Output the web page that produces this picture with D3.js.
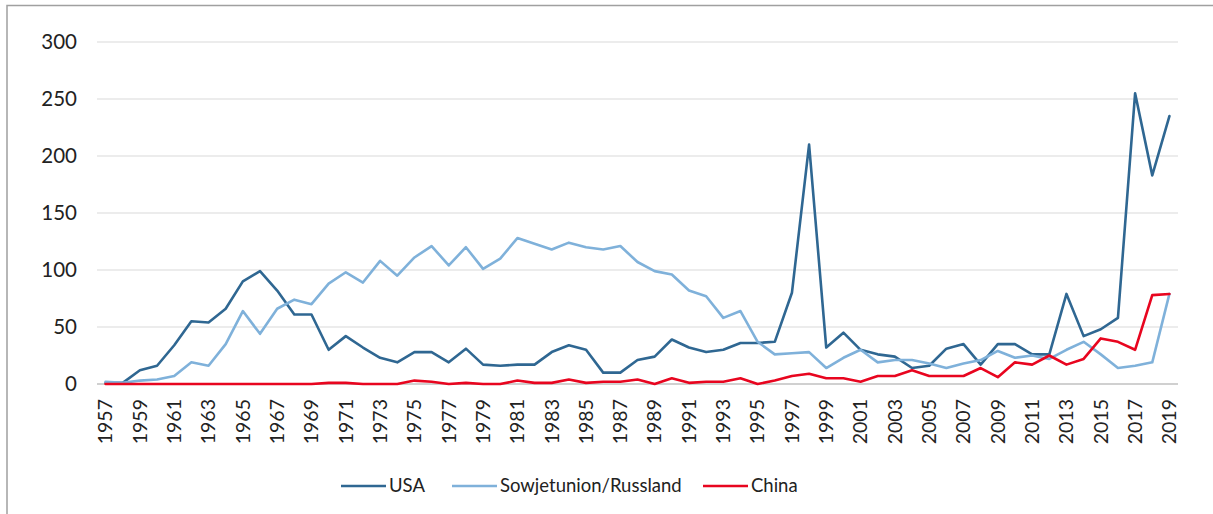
<!DOCTYPE html>
<html>
<head>
<meta charset="utf-8">
<script src="https://cdn.jsdelivr.net/npm/d3@7/dist/d3.min.js"></script>
<style>
  html, body { margin: 0; padding: 0; background: #fff; }
  svg { display: block; font-family: Lato, "Open Sans", sans-serif; }
</style>
</head>
<body>
<svg id="chart" width="1213" height="514"></svg>
<script>
const years = d3.range(1957, 2020);
const usa = [1,1,12,16,34,55,54,66,90,99,82,61,61,30,42,32,23,19,28,28,19,31,17,16,17,17,28,34,30,10,10,21,24,39,32,28,30,36,36,37,80,210,32,45,30,26,24,14,16,31,35,17,35,35,26,26,79,42,48,58,255,183,235];
const sowjet = [2,1,3,4,7,19,16,35,64,44,66,74,70,88,98,89,108,95,111,121,104,120,101,110,128,123,118,124,120,118,121,107,99,96,82,77,58,64,37,26,27,28,14,23,30,19,21,21,18,14,18,21,29,23,25,22,30,37,26,14,16,19,79];
const china = [0,0,0,0,0,0,0,0,0,0,0,0,0,1,1,0,0,0,3,2,0,1,0,0,3,1,1,4,1,2,2,4,0,5,1,2,2,5,0,3,7,9,5,5,2,7,7,12,7,7,7,14,6,19,17,25,17,22,40,37,30,78,79];
const yTicks = [0, 50, 100, 150, 200, 250, 300];
const seriesNames = ["USA", "Sowjetunion/Russland", "China"];
const seriesColors = ["#2f6792", "#7fb1da", "#e8051f"];

const svg = d3.select("#chart");

// outer frame
svg.append("rect").attr("x", 7).attr("y", 5.5).attr("width", 1400).attr("height", 700)
  .attr("fill", "none").attr("stroke", "#a0a0a0").attr("stroke-width", 1.5);

const x = d3.scaleBand().domain(years).range([97, 1178]).paddingInner(0).paddingOuter(0);
const y = d3.scaleLinear().domain([0, 300]).range([384, 42]);
const cx = d => x(d) + x.bandwidth() / 2;

// gridlines
svg.append("g").selectAll("line").data(yTicks.filter(t => t > 0)).join("line")
  .attr("x1", 97).attr("x2", 1178)
  .attr("y1", d => y(d)).attr("y2", d => y(d))
  .attr("stroke", "#d9d9d9").attr("stroke-width", 1);

// y labels
svg.append("g").selectAll("text").data(yTicks).join("text")
  .attr("x", 77).attr("y", d => y(d)).attr("dy", "0.35em")
  .attr("text-anchor", "end").attr("font-size", 20.5).attr("fill", "#222")
  .text(d => d);

// zero axis line
svg.append("line").attr("x1", 97).attr("x2", 1178).attr("y1", y(0)).attr("y2", y(0))
  .attr("stroke", "#d0d0d0").attr("stroke-width", 2);

// x labels
svg.append("g").selectAll("text").data(years.filter(d => (d - 1957) % 2 === 0)).join("text")
  .attr("transform", d => `translate(${cx(d)},399) rotate(-90)`)
  .attr("dy", "0.35em").attr("text-anchor", "end")
  .attr("font-size", 19.5).attr("fill", "#222")
  .text(d => d);

const line = d3.line().x((d, i) => cx(years[i])).y(d => y(d));
[usa, sowjet, china].forEach((s, i) => {
  svg.append("path").datum(s).attr("d", line)
    .attr("fill", "none").attr("stroke", seriesColors[i]).attr("stroke-width", 2.6)
    .attr("stroke-linejoin", "round").attr("stroke-linecap", "round");
});

// legend
const legendX = [341, 452, 703];
const lg = svg.append("g");
seriesNames.forEach((n, i) => {
  lg.append("line").attr("x1", legendX[i]).attr("x2", legendX[i] + 45)
    .attr("y1", 486).attr("y2", 486)
    .attr("stroke", seriesColors[i]).attr("stroke-width", 2.6);
  lg.append("text").attr("x", legendX[i] + 48).attr("y", 486).attr("dy", "0.35em")
    .attr("font-size", 18.5).attr("fill", "#222").text(n);
});
</script>
</body>
</html>
